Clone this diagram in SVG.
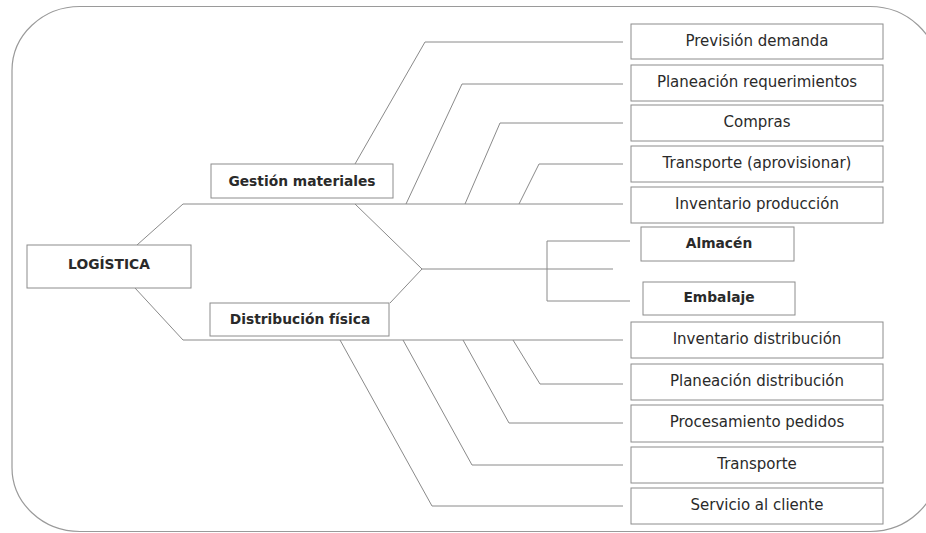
<svg xmlns="http://www.w3.org/2000/svg" width="926" height="533" viewBox="0 0 926 533">
  <style>
    .frame { fill: #ffffff; stroke: #9a9a9a; stroke-width: 1.2; }
    .box { fill: #ffffff; stroke: #8c8c8c; stroke-width: 1; }
    .wire { fill: none; stroke: #8a8a8a; stroke-width: 1; }
    text { font-family: "DejaVu Sans", "Noto Sans", sans-serif; font-size: 15px; fill: #2a2a2a; text-anchor: middle; dominant-baseline: central; }
    .bold { font-weight: bold; font-size: 13.8px; }
  </style>

  <rect class="frame" x="12" y="6.5" width="926" height="525" rx="68" ry="64"/>

  <g id="connectors">
    <!-- trunks from LOGÍSTICA -->
    <polyline class="wire" points="137,245 183,204 623,204"/>
    <polyline class="wire" points="135,288 183,340 623,340"/>
    <!-- central branch -->
    <polyline class="wire" points="355,204 422,269 390,303"/>
    <line class="wire" x1="422" y1="269" x2="613" y2="269"/>
    <polyline class="wire" points="630,241 547,241 547,301 630,301"/>
    <!-- materials branches -->
    <polyline class="wire" points="355,164 425,42 623,42"/>
    <polyline class="wire" points="406,204 462,84 623,84"/>
    <polyline class="wire" points="465,204 500,123 623,123"/>
    <polyline class="wire" points="519,204 539,164 623,164"/>
    <!-- distribution branches -->
    <polyline class="wire" points="513,340 540,384 623,384"/>
    <polyline class="wire" points="463,340 509,423 623,423"/>
    <polyline class="wire" points="403,340 472,465 623,465"/>
    <polyline class="wire" points="340,340 432,506 623,506"/>
  </g>

  <g id="logistica">
    <rect class="box" x="27" y="245" width="164" height="43"/>
    <text class="bold" x="109" y="264">LOGÍSTICA</text>
  </g>
  <g id="gestion-materiales">
    <rect class="box" x="211" y="164" width="182" height="34"/>
    <text class="bold" x="302" y="181">Gestión materiales</text>
  </g>
  <g id="distribucion-fisica">
    <rect class="box" x="210" y="303" width="179" height="33"/>
    <text class="bold" x="300" y="319">Distribución física</text>
  </g>

  <g id="prevision-demanda">
    <rect class="box" x="631" y="24" width="252" height="35"/>
    <text x="757" y="41">Previsión demanda</text>
  </g>
  <g id="planeacion-requerimientos">
    <rect class="box" x="631" y="65" width="252" height="36"/>
    <text x="757" y="82">Planeación requerimientos</text>
  </g>
  <g id="compras">
    <rect class="box" x="631" y="105" width="252" height="36"/>
    <text x="757" y="122">Compras</text>
  </g>
  <g id="transporte-aprovisionar">
    <rect class="box" x="631" y="146" width="252" height="36"/>
    <text x="757" y="163">Transporte (aprovisionar)</text>
  </g>
  <g id="inventario-produccion">
    <rect class="box" x="631" y="187" width="252" height="36"/>
    <text x="757" y="204">Inventario producción</text>
  </g>

  <g id="almacen">
    <rect class="box" x="641" y="227" width="153" height="34"/>
    <text class="bold" x="719" y="243">Almacén</text>
  </g>
  <g id="embalaje">
    <rect class="box" x="643" y="282" width="152" height="33"/>
    <text class="bold" x="719" y="297">Embalaje</text>
  </g>

  <g id="inventario-distribucion">
    <rect class="box" x="631" y="322" width="252" height="36"/>
    <text x="757" y="339">Inventario distribución</text>
  </g>
  <g id="planeacion-distribucion">
    <rect class="box" x="631" y="364" width="252" height="36"/>
    <text x="757" y="381">Planeación distribución</text>
  </g>
  <g id="procesamiento-pedidos">
    <rect class="box" x="631" y="405" width="252" height="37"/>
    <text x="757" y="422">Procesamiento pedidos</text>
  </g>
  <g id="transporte">
    <rect class="box" x="631" y="447" width="252" height="36"/>
    <text x="757" y="464">Transporte</text>
  </g>
  <g id="servicio-cliente">
    <rect class="box" x="631" y="488" width="252" height="36"/>
    <text x="757" y="505">Servicio al cliente</text>
  </g>
</svg>
